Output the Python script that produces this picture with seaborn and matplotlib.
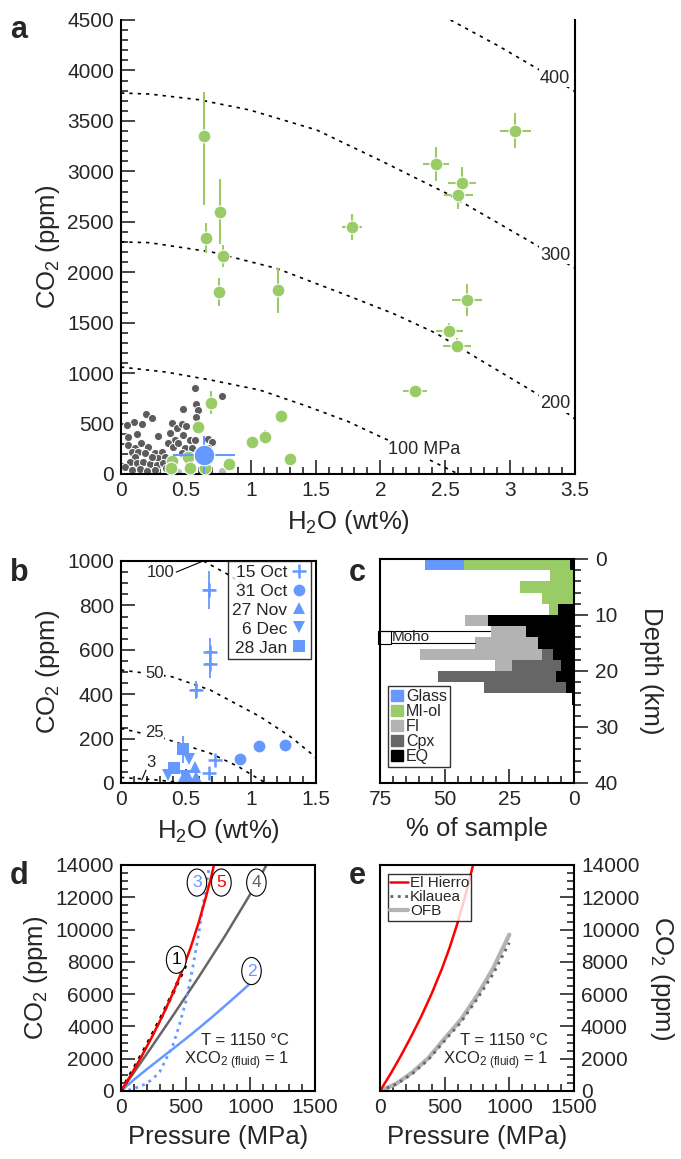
import numpy as np
import pandas as pd
import seaborn as sns
import matplotlib.pyplot as plt
from matplotlib.patches import Patch, Rectangle
from matplotlib.lines import Line2D
from matplotlib.ticker import MultipleLocator, FuncFormatter

sns.set_style('ticks')
plt.rcParams['font.family'] = ['Liberation Sans', 'DejaVu Sans']
plt.rcParams['mathtext.default'] = 'regular'

BLUE = '#6699ff'
GREEN = '#99cc66'
DARK = '#5c5c5c'

# ---- panel a data ----
# other melt inclusions (small grey dots)
grey_h2o = [0.571, 0.781, 0.193, 0.242, 0.481, 0.581, 0.591, 0.578, 0.103, 0.164, 0.121, 0.288,
            0.396, 0.429, 0.468, 0.501, 0.378, 0.416, 0.481, 0.532, 0.571, 0.673, 0.699, 0.365,
            0.403, 0.442, 0.493, 0.545, 0.673, 0.051, 0.056, 0.108, 0.154, 0.206, 0.082, 0.134,
            0.185, 0.108, 0.262, 0.314, 0.288, 0.339, 0.069, 0.121, 0.172, 0.224, 0.275, 0.326,
            0.031, 0.082, 0.146, 0.198, 0.262, 0.468, 0.532, 0.596, 0.237, 0.044, 0.62, 0.35]
grey_co2 = [856, 776, 598, 552, 644, 691, 631, 568, 512, 499, 393, 377,
            509, 453, 493, 476, 403, 337, 387, 337, 337, 347, 314, 304,
            271, 304, 261, 255, 261, 370, 287, 261, 304, 271, 221, 215,
            205, 172, 205, 221, 156, 172, 122, 106, 122, 96, 89, 106,
            73, 40, 50, 30, 40, 205, 172, 221, 172, 486, 130, 60]
light_h2o = [0.44, 0.776, 0.815]
light_co2 = [23, 30, 89]

# MI-ol (green) with errors
mi_h2o = [0.64, 0.763, 0.655, 0.786, 0.757, 1.21, 1.78, 2.43, 3.04, 2.63, 2.60, 2.665, 2.53, 2.59,
          2.267, 0.69, 0.596, 1.01, 1.11, 1.23, 1.30, 0.39, 0.385, 0.517, 0.53, 0.65, 0.83]
mi_co2 = [3350, 2600, 2342, 2164, 1801, 1820, 2451, 3070, 3402, 2888, 2769, 1725, 1420, 1272,
          823, 707, 469, 320, 363, 578, 152, 126, 63, 172, 56, 63, 102]
mi_xerr = [0, 0, 0, 0, 0, 0, 0.075, 0.10, 0.12, 0.107, 0.11, 0.115, 0.105, 0.108,
           0.094, 0, 0, 0.03, 0, 0.045, 0, 0, 0, 0, 0, 0, 0]
mi_yerr_lo = [684, 320, 150, 108, 138, 220, 130, 170, 175, 155, 145, 155, 75, 75,
              0, 112, 65, 40, 70, 60, 0, 0, 0, 0, 0, 0, 0]
mi_yerr_hi = [436, 320, 150, 108, 138, 220, 130, 170, 175, 155, 145, 155, 75, 75,
              0, 112, 65, 40, 70, 60, 0, 0, 0, 0, 0, 0, 0]

# glass (blue) mean
glass_h2o, glass_co2, glass_xerr, glass_yerr = 0.64, 188, 0.24, 190

# isobars (MPa)
iso100_h2o = [0, 0.35, 0.69, 1.07, 1.43, 1.75, 2.0, 2.2, 2.38, 2.6]
iso100_co2 = [1060, 1010, 932, 832, 674, 520, 370, 255, 139, 0]
iso200_h2o = [0, 0.22, 0.7, 1.2, 1.77, 2.1, 2.43, 2.77, 3.2, 3.46, 3.5]
iso200_co2 = [2300, 2293, 2200, 2038, 1757, 1590, 1394, 1130, 800, 585, 545]
iso300_h2o = [0, 0.22, 0.6, 0.995, 1.51, 2.02, 2.51, 2.85, 3.2, 3.5]
iso300_co2 = [3776, 3766, 3710, 3607, 3409, 3095, 2782, 2530, 2270, 2040]
iso400_h2o = [2.54, 2.9, 3.3, 3.5]
iso400_co2 = [4500, 4250, 3950, 3790]

# ---- panel b data ----
oct15_h2o = [0.68, 0.686, 0.686, 0.58, 0.72, 0.68]
oct15_co2 = [870, 591, 535, 419, 104, 47]
oct15_yerr = [85, 60, 60, 40, 0, 0]
oct15_xerr = [0.04, 0.03, 0.03, 0.045, 0, 0]
oct31_h2o = [0.915, 1.06, 1.26]
oct31_co2 = [110, 167, 172]
nov27_h2o = [0.57, 0.578, 0.468, 0.52]
nov27_co2 = [71, 28, 14, 22]
dec6_h2o = [0.36, 0.52, 0.49]
dec6_co2 = [36, 106, 30]
jan28_h2o = [0.48, 0.41]
jan28_co2 = [152, 66]
jan28_yerr = [60, 0]

b100_h2o = [0.635, 0.83, 1.0]
b100_co2 = [1000, 937, 870]
b50_h2o = [0, 0.39, 0.686, 1.07, 1.3, 1.46, 1.5]
b50_co2 = [509, 479, 419, 299, 210, 134, 112]
b25_h2o = [0, 0.33, 0.686, 0.9, 1.07, 1.12]
b25_co2 = [246, 201, 134, 75, 14, 0]
b3_h2o = [0, 0.25, 0.5]
b3_co2 = [25, 15, 0]

# ---- panel c data (2 km depth bins, % of sample) ----
depth_mid = [1, 3, 5, 7, 9, 11, 13, 15, 17, 19, 21, 23, 25]
pct_eq = [1.5, 0, 0, 0, 6.1, 33.1, 18.6, 13.8, 8.0, 5.2, 7.0, 3.1, 0.9]
pct_cpx = [0, 0, 0, 0, 0, 0, 0, 0, 4.5, 18.9, 45.5, 31.7, 0]
pct_fi = [0, 0, 0, 0, 0, 9.0, 13.5, 24.5, 47.0, 6.4, 0, 0, 0]
pct_miol = [41.0, 9.3, 20.9, 12.5, 3.6, 0, 0, 0, 0, 0, 0, 0, 0]
pct_glass = [15.1, 0, 0, 0, 0, 0, 0, 0, 0, 0, 0, 0, 0]

# ---- panel d/e data (CO2 solubility vs pressure) ----
m5_p = [0, 80, 160, 240, 320, 400, 480, 540, 600, 650, 690, 719]
m5_co2 = [0, 1040, 2160, 3360, 4640, 6040, 7600, 8920, 10420, 11820, 13020, 14000]
m1_p = [0, 100, 200, 300, 400, 499]
m1_co2 = [0, 1400, 2850, 4400, 6050, 7780]
m3_p = [0, 50, 100, 150, 200, 250, 300, 350, 400, 450, 500, 550, 600, 650, 685]
m3_co2 = [0, 40, 160, 290, 480, 780, 1200, 2000, 2800, 4050, 5500, 7450, 9700, 12300, 14000]
m2_p = [0, 100, 200, 300, 400, 500, 600, 700, 800, 900, 1000]
m2_co2 = [0, 700, 1350, 1980, 2600, 3230, 3880, 4550, 5250, 5950, 6670]
m4_p = [0, 200, 400, 600, 800, 1000, 1125]
m4_co2 = [0, 2300, 4650, 7050, 9550, 12200, 14000]

kil_p = [0, 125, 250, 375, 500, 625, 750, 875, 1000]
kil_co2 = [0, 420, 1070, 1950, 3120, 4250, 5690, 7250, 9180]
ofb_p = [0, 125, 250, 375, 500, 625, 750, 875, 1000]
ofb_co2 = [0, 450, 1150, 2050, 3250, 4420, 5900, 7600, 9690]


fig = plt.figure(figsize=(6.81, 11.59), dpi=100)
W, H = 681, 1159


def box(l, t, r, b):
    return [l / W, 1 - b / H, (r - l) / W, (b - t) / H]


ax_a = fig.add_axes(box(121, 20, 575, 474))
ax_b = fig.add_axes(box(121, 561, 316, 783))
ax_c = fig.add_axes(box(380, 559, 574, 783))
ax_d = fig.add_axes(box(121, 865, 315, 1091))
ax_e = fig.add_axes(box(380, 865, 574, 1091))

TICK = 15
LAB = 18.5
DASH = dict(color='black', lw=1.2, ls=(0, (2, 3)))
fmt_g = FuncFormatter(lambda v, p: f'{v:g}')


def style(ax, xmaj, xmin, ymaj, ymin, right=False, ydir='in'):
    for s in ax.spines.values():
        s.set_linewidth(1.5)
        s.set_color('black')
    ax.xaxis.set_major_locator(MultipleLocator(xmaj))
    ax.xaxis.set_minor_locator(MultipleLocator(xmin))
    ax.yaxis.set_major_locator(MultipleLocator(ymaj))
    ax.yaxis.set_minor_locator(MultipleLocator(ymin))
    ax.xaxis.set_major_formatter(fmt_g)
    ax.yaxis.set_major_formatter(fmt_g)
    ax.tick_params(axis='x', which='both', direction='in', top=False, labelsize=TICK, pad=5, width=1.2)
    ax.tick_params(axis='x', which='major', length=10)
    ax.tick_params(axis='x', which='minor', length=5)
    if right:
        ax.yaxis.tick_right()
        ax.yaxis.set_label_position('right')
        ax.tick_params(axis='y', which='both', direction=ydir, left=False, right=True,
                       labelsize=TICK, pad=5, width=1.2)
    else:
        ax.tick_params(axis='y', which='both', direction=ydir, right=False, labelsize=TICK,
                       pad=5, width=1.2)
    ax.tick_params(axis='y', which='major', length=10)
    ax.tick_params(axis='y', which='minor', length=5)


# ---------------- a ----------------
ax = ax_a
for hx, cy in [(iso100_h2o, iso100_co2), (iso200_h2o, iso200_co2),
               (iso300_h2o, iso300_co2), (iso400_h2o, iso400_co2)]:
    ax.plot(hx, cy, **DASH, zorder=1)
sns.scatterplot(x=grey_h2o, y=grey_co2, ax=ax, color=DARK, s=34, edgecolor='white',
                linewidth=0.7, zorder=2)
sns.scatterplot(x=light_h2o, y=light_co2, ax=ax, color='#bbbbbb', s=34, edgecolor='white',
                linewidth=0.7, zorder=2)
ax.errorbar(mi_h2o, mi_co2, xerr=mi_xerr, yerr=[mi_yerr_lo, mi_yerr_hi], fmt='none',
            ecolor=GREEN, elinewidth=1.5, capsize=0, zorder=3)
sns.scatterplot(x=mi_h2o, y=mi_co2, ax=ax, color=GREEN, s=85, edgecolor='white',
                linewidth=0.8, zorder=4)
ax.errorbar([glass_h2o], [glass_co2], xerr=[glass_xerr], yerr=[glass_yerr], fmt='none',
            ecolor=BLUE, elinewidth=1.5, capsize=0, zorder=5)
sns.scatterplot(x=[glass_h2o], y=[glass_co2], ax=ax, color=BLUE, s=220, edgecolor='white',
                linewidth=0.8, zorder=6)
lbl = dict(fontsize=13, ha='center', va='center', bbox=dict(fc='white', ec='none', pad=0.5))
ax.text(3.346, 3925, '400', **lbl)
ax.text(3.346, 2170, '300', **lbl)
ax.text(3.346, 700, '200', **lbl)
ax.text(2.34, 240, '100 MPa', **lbl)
ax.set_xlim(0, 3.5)
ax.set_ylim(0, 4500)
style(ax, 0.5, 0.1, 500, 100)
ax.spines['top'].set_visible(False)
ax.set_xlabel('H$_2$O (wt%)', fontsize=LAB, labelpad=6)
ax.set_ylabel('CO$_2$ (ppm)', fontsize=LAB, labelpad=4)

# ---------------- b ----------------
ax = ax_b
for hx, cy in [(b100_h2o, b100_co2), (b50_h2o, b50_co2), (b25_h2o, b25_co2), (b3_h2o, b3_co2)]:
    ax.plot(hx, cy, **DASH, zorder=1)
blbl = dict(fontsize=12, ha='center', va='center', bbox=dict(fc='white', ec='none', pad=0.3))
ax.text(0.308, 948, '100', **blbl)
ax.plot([0.425, 0.632], [950, 1000], color='black', lw=0.8)
ax.text(0.258, 491, '50', **blbl)
ax.text(0.258, 227, '25', **blbl)
ax.text(0.23, 92, '3', **blbl)
ax.plot([0.193, 0.16], [59, 14], color='black', lw=0.8)
ax.errorbar(oct15_h2o, oct15_co2, xerr=oct15_xerr, yerr=oct15_yerr, fmt='none',
            ecolor=BLUE, elinewidth=1.3, capsize=0)
ax.errorbar(jan28_h2o, jan28_co2, yerr=jan28_yerr, fmt='none', ecolor=BLUE, elinewidth=1.3, capsize=0)
mk = dict(color=BLUE, linestyle='none')
ax.plot(oct15_h2o, oct15_co2, marker='+', markersize=10, mew=1.8, label='15 Oct', **mk)
ax.plot(oct31_h2o, oct31_co2, marker='o', markersize=8.5, mew=0, label='31 Oct', **mk)
ax.plot(nov27_h2o, nov27_co2, marker='^', markersize=8.5, mew=0, label='27 Nov', **mk)
ax.plot(dec6_h2o, dec6_co2, marker='v', markersize=8.5, mew=0, label='6 Dec', **mk)
ax.plot(jan28_h2o, jan28_co2, marker='s', markersize=8, mew=0, label='28 Jan', **mk)
leg = ax.legend(loc='upper right', fontsize=12.5, markerfirst=False, frameon=True, fancybox=False,
                borderpad=0.2, labelspacing=0.22, handletextpad=0.2, handlelength=1.0,
                borderaxespad=0.0, bbox_to_anchor=(0.976, 1.0))
leg.get_frame().set_edgecolor('black')
leg.get_frame().set_linewidth(1.0)
leg.set_zorder(10)
ax.set_xlim(0, 1.5)
ax.set_ylim(0, 1000)
style(ax, 0.5, 0.1, 200, 50)
ax.set_xlabel('H$_2$O (wt%)', fontsize=LAB, labelpad=6)
ax.set_ylabel('CO$_2$ (ppm)', fontsize=LAB, labelpad=4)

# ---------------- c ----------------
ax = ax_c
left = np.zeros(len(depth_mid))
for vals, col in [(pct_eq, 'black'), (pct_cpx, '#666666'), (pct_fi, '#b3b3b3'),
                  (pct_miol, GREEN), (pct_glass, BLUE)]:
    ax.barh(depth_mid, vals, left=left, height=2, color=col, linewidth=0)
    left = left + np.array(vals)
ax.add_patch(Rectangle((75.6, 12.9), -4.8, 2.2, fill=False, ec='black', lw=0.8, clip_on=False))
ax.plot([75.6, 32.5], [12.9, 12.9], color='black', lw=0.8, clip_on=False)
ax.plot([70.8, 38.3], [15.0, 15.0], color='black', lw=0.8)
ax.text(70.5, 14.0, 'Moho', fontsize=11, ha='left', va='center')
handles = [Patch(color=BLUE, label='Glass'), Patch(color=GREEN, label='MI-ol'),
           Patch(color='#b3b3b3', label='FI'), Patch(color='#666666', label='Cpx'),
           Patch(color='black', label='EQ')]
leg = ax.legend(handles=handles, loc='lower left', fontsize=11.5, frameon=True, fancybox=False,
                borderpad=0.2, labelspacing=0.0, handletextpad=0.2, handlelength=0.75,
                handleheight=0.75, bbox_to_anchor=(0.04, 0.07), borderaxespad=0)
leg.get_frame().set_edgecolor('black')
leg.get_frame().set_linewidth(1.0)
ax.set_xlim(75, 0)
ax.set_ylim(40, 0)
style(ax, 25, 5, 10, 2, right=True, ydir='out')
ax.set_xlabel('% of sample', fontsize=LAB, labelpad=6)
ax.set_ylabel('Depth (km)', fontsize=LAB, rotation=270, labelpad=32)

# ---------------- d ----------------
ax = ax_d
ax.plot(m2_p, m2_co2, color=BLUE, lw=1.8)
ax.plot(m4_p, m4_co2, color='#666666', lw=1.8)
ax.plot(m3_p, m3_co2, color=BLUE, lw=2, ls=':')
ax.plot(m1_p, m1_co2, color='black', lw=2.5, ls=':')
ax.plot(m5_p, m5_co2, color='red', lw=1.8)
circ = dict(fontsize=12.5, ha='center', va='center',
            bbox=dict(boxstyle='ellipse,pad=0.12', fc='white', ec='black', lw=0.8))
ax.text(427, 8127, '1', color='black', **circ)
ax.text(1009, 7431, '2', color=BLUE, **circ)
ax.text(587, 12912, '3', color=BLUE, **circ)
ax.text(1047, 12912, '4', color='#666666', **circ)
ax.text(776, 12912, '5', color='red', **circ)
ax.text(1300, 3100, 'T = 1150 °C', fontsize=12, ha='right', va='center')
ax.text(1300, 1900, 'XCO$_{2\\ (fluid)}$ = 1', fontsize=12, ha='right', va='center')
ax.set_xlim(0, 1500)
ax.set_ylim(0, 14000)
style(ax, 500, 100, 2000, 500)
ax.set_xlabel('Pressure (MPa)', fontsize=LAB, labelpad=6)
ax.set_ylabel('CO$_2$ (ppm)', fontsize=LAB, labelpad=4)

# ---------------- e ----------------
ax = ax_e
ax.plot(ofb_p, ofb_co2, color='#b3b3b3', lw=3, label='OFB')
ax.plot(kil_p, kil_co2, color='#666666', lw=2, ls=':', label='Kilauea')
ax.plot(m5_p, m5_co2, color='red', lw=1.8, label='El Hierro')
handles = [Line2D([], [], color='red', lw=1.8), Line2D([], [], color='#666666', lw=2, ls=':'),
           Line2D([], [], color='#b3b3b3', lw=3)]
leg = ax.legend(handles, ['El Hierro', 'Kilauea', 'OFB'], loc='upper left', fontsize=11,
                frameon=True, fancybox=False, borderpad=0.15, labelspacing=0.0,
                handletextpad=0.1, handlelength=1.2, bbox_to_anchor=(0.04, 0.96), borderaxespad=0)
leg.get_frame().set_edgecolor('black')
leg.get_frame().set_linewidth(1.0)
ax.text(1300, 3100, 'T = 1150 °C', fontsize=12, ha='right', va='center')
ax.text(1300, 1900, 'XCO$_{2\\ (fluid)}$ = 1', fontsize=12, ha='right', va='center')
ax.set_xlim(0, 1500)
ax.set_ylim(0, 14000)
style(ax, 500, 100, 2000, 500, right=True)
ax.set_xlabel('Pressure (MPa)', fontsize=LAB, labelpad=6)
ax.set_ylabel('CO$_2$ (ppm)', fontsize=LAB, rotation=270, labelpad=26)

# panel letters
for s, x, y in [('a', 19, 30), ('b', 19, 573), ('c', 357, 573), ('d', 19, 876), ('e', 357, 876)]:
    fig.text(x / W, 1 - y / H, s, fontsize=22, fontweight='bold', ha='center', va='center')

fig.savefig('out.png', dpi=100)
